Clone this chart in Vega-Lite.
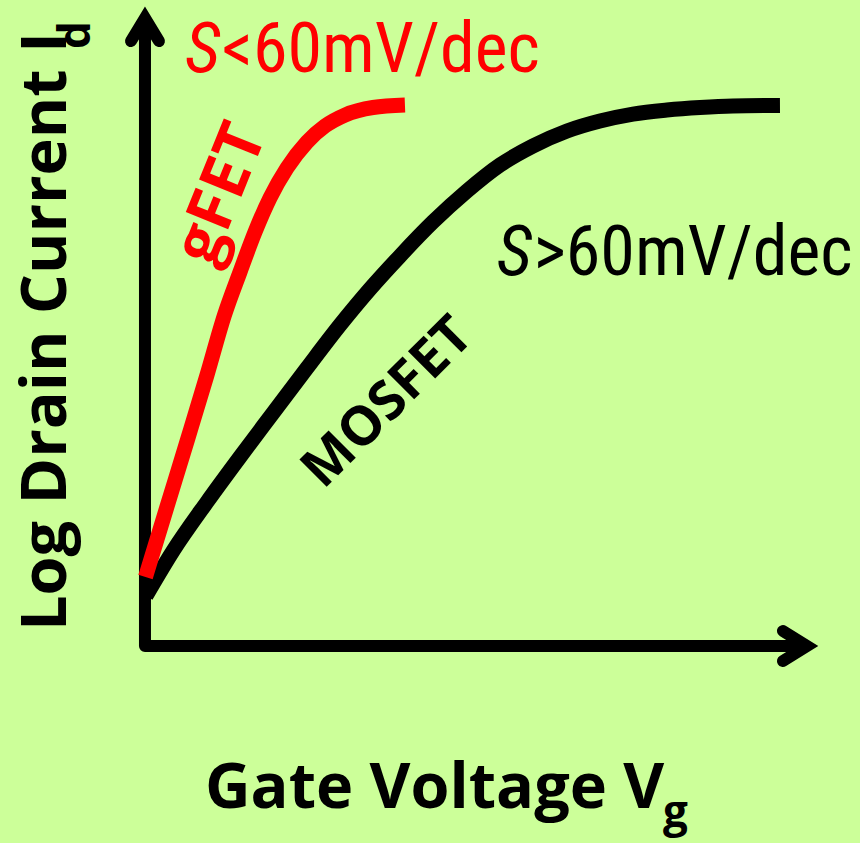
{
  "$schema": "https://vega.github.io/schema/vega-lite/v6.json",
  "width": 860,
  "height": 843,
  "padding": 0,
  "autosize": {"type": "none"},
  "background": "#CCFF99",
  "config": {"view": {"stroke": null}},
  "datasets": {
    "axes": [
      {"part": "shaft", "i": 0, "vg": 0, "logId": 10},
      {"part": "shaft", "i": 1, "vg": 0, "logId": 0},
      {"part": "shaft", "i": 2, "vg": 10, "logId": 0},
      {"part": "headY", "i": 0, "vg": -0.211, "logId": 9.634},
      {"part": "headY", "i": 1, "vg": 0, "logId": 10},
      {"part": "headY", "i": 2, "vg": 0.211, "logId": 9.634},
      {"part": "headX", "i": 0, "vg": 9.637, "logId": 0.239},
      {"part": "headX", "i": 1, "vg": 10, "logId": 0},
      {"part": "headX", "i": 2, "vg": 9.637, "logId": -0.239}
    ],
    "mosfet": [
      {"device": "MOSFET", "i": 0, "vg": 0.015, "logId": 0.796},
      {"device": "MOSFET", "i": 1, "vg": 0.423, "logId": 1.513},
      {"device": "MOSFET", "i": 2, "vg": 0.937, "logId": 2.293},
      {"device": "MOSFET", "i": 3, "vg": 1.435, "logId": 3.01},
      {"device": "MOSFET", "i": 4, "vg": 1.934, "logId": 3.71},
      {"device": "MOSFET", "i": 5, "vg": 2.447, "logId": 4.427},
      {"device": "MOSFET", "i": 6, "vg": 2.946, "logId": 5.111},
      {"device": "MOSFET", "i": 7, "vg": 3.399, "logId": 5.685},
      {"device": "MOSFET", "i": 8, "vg": 3.852, "logId": 6.21},
      {"device": "MOSFET", "i": 9, "vg": 4.35, "logId": 6.752},
      {"device": "MOSFET", "i": 10, "vg": 4.864, "logId": 7.245},
      {"device": "MOSFET", "i": 11, "vg": 5.363, "logId": 7.659},
      {"device": "MOSFET", "i": 12, "vg": 5.861, "logId": 7.962},
      {"device": "MOSFET", "i": 13, "vg": 6.375, "logId": 8.201},
      {"device": "MOSFET", "i": 14, "vg": 6.873, "logId": 8.36},
      {"device": "MOSFET", "i": 15, "vg": 7.372, "logId": 8.471},
      {"device": "MOSFET", "i": 16, "vg": 7.885, "logId": 8.535},
      {"device": "MOSFET", "i": 17, "vg": 8.384, "logId": 8.575},
      {"device": "MOSFET", "i": 18, "vg": 8.882, "logId": 8.599},
      {"device": "MOSFET", "i": 19, "vg": 9.592, "logId": 8.607}
    ],
    "gfet": [
      {"device": "gFET", "i": 0, "vg": 0.008, "logId": 1.099},
      {"device": "gFET", "i": 1, "vg": 0.317, "logId": 2.166},
      {"device": "gFET", "i": 2, "vg": 0.65, "logId": 3.312},
      {"device": "gFET", "i": 3, "vg": 0.937, "logId": 4.315},
      {"device": "gFET", "i": 4, "vg": 1.201, "logId": 5.271},
      {"device": "gFET", "i": 5, "vg": 1.435, "logId": 5.955},
      {"device": "gFET", "i": 6, "vg": 1.662, "logId": 6.592},
      {"device": "gFET", "i": 7, "vg": 1.888, "logId": 7.134},
      {"device": "gFET", "i": 8, "vg": 2.145, "logId": 7.611},
      {"device": "gFET", "i": 9, "vg": 2.447, "logId": 8.025},
      {"device": "gFET", "i": 10, "vg": 2.719, "logId": 8.28},
      {"device": "gFET", "i": 11, "vg": 3.021, "logId": 8.455},
      {"device": "gFET", "i": 12, "vg": 3.444, "logId": 8.575},
      {"device": "gFET", "i": 13, "vg": 3.927, "logId": 8.615}
    ]
  },
  "encoding": {
    "x": {"field": "vg", "type": "quantitative", "scale": {"domain": [-2.19, 10.801], "nice": false, "zero": false}, "axis": null},
    "y": {"field": "logId", "type": "quantitative", "scale": {"domain": [-3.137, 10.287], "nice": false, "zero": false}, "axis": null}
  },
  "layer": [
    {
      "data": {"name": "axes"},
      "transform": [{"filter": "datum.part === 'shaft'"}],
      "mark": {"type": "line", "color": "#000000", "strokeWidth": 12, "strokeJoin": "round", "strokeCap": "butt"},
      "encoding": {"order": {"field": "i", "type": "quantitative"}}
    },
    {
      "data": {"name": "axes"},
      "transform": [{"filter": "datum.part !== 'shaft'"}],
      "mark": {"type": "line", "color": "#000000", "strokeWidth": 12, "strokeJoin": "miter", "strokeMiterLimit": 10, "strokeCap": "round"},
      "encoding": {"detail": {"field": "part"}, "order": {"field": "i", "type": "quantitative"}}
    },
    {
      "data": {"name": "mosfet"},
      "mark": {"type": "line", "strokeWidth": 15, "strokeCap": "butt", "interpolate": "monotone"},
      "encoding": {
        "color": {"field": "device", "type": "nominal", "scale": {"domain": ["MOSFET", "gFET"], "range": ["#000000", "#FF0000"]}, "legend": null},
        "order": {"field": "i", "type": "quantitative"}
      }
    },
    {
      "data": {"name": "gfet"},
      "mark": {"type": "line", "strokeWidth": 15, "strokeCap": "butt", "interpolate": "monotone"},
      "encoding": {
        "color": {"field": "device", "type": "nominal", "legend": null},
        "order": {"field": "i", "type": "quantitative"}
      }
    },
    {
      "data": {"values": [
        {"label": "S", "device": "gFET", "vg": 0.604, "logId": 9.145},
        {"label": "S", "device": "MOSFET", "vg": 5.312, "logId": 5.908}
      ]},
      "mark": {"type": "text", "font": "Liberation Sans Narrow, Roboto Condensed, DejaVu Sans Condensed", "fontStyle": "italic", "fontSize": 70, "align": "left", "baseline": "alphabetic"},
      "encoding": {"text": {"field": "label"}, "color": {"field": "device", "type": "nominal", "legend": null}}
    },
    {
      "data": {"values": [
        {"label": "<60mV/dec", "device": "gFET", "vg": 1.16, "logId": 9.145},
        {"label": ">60mV/dec", "device": "MOSFET", "vg": 5.87, "logId": 5.908}
      ]},
      "mark": {"type": "text", "font": "Liberation Sans Narrow, Roboto Condensed, DejaVu Sans Condensed", "fontSize": 70, "align": "left", "baseline": "alphabetic"},
      "encoding": {"text": {"field": "label"}, "color": {"field": "device", "type": "nominal", "legend": null}}
    },
    {
      "data": {"values": [{"label": "gFET", "device": "gFET", "vg": 1.163, "logId": 7.197}]},
      "mark": {"type": "text", "font": "Open Sans", "fontWeight": "bold", "fontSize": 64, "angle": -68, "align": "center", "baseline": "middle"},
      "encoding": {"text": {"field": "label"}, "color": {"field": "device", "type": "nominal", "legend": null}}
    },
    {
      "data": {"values": [{"label": "MOSFET", "device": "MOSFET", "vg": 3.671, "logId": 3.869}]},
      "mark": {"type": "text", "font": "Open Sans", "fontWeight": "bold", "fontSize": 54, "angle": -45, "align": "center", "baseline": "middle"},
      "encoding": {"text": {"field": "label"}, "color": {"field": "device", "type": "nominal", "legend": null}}
    },
    {
      "data": {"values": [{"label": "Gate Voltage V", "vg": 0.906, "logId": -2.58}]},
      "mark": {"type": "text", "font": "Open Sans", "fontWeight": "bold", "fontSize": 63, "color": "#000000", "align": "left", "baseline": "alphabetic"},
      "encoding": {"text": {"field": "label"}}
    },
    {
      "data": {"values": [{"label": "g", "vg": 7.825, "logId": -2.882}]},
      "mark": {"type": "text", "font": "Open Sans", "fontWeight": "bold", "fontSize": 44, "color": "#000000", "align": "left", "baseline": "alphabetic"},
      "encoding": {"text": {"field": "label"}}
    },
    {
      "data": {"values": [{"label": "Log Drain Current I", "vg": -1.193, "logId": 0.239}]},
      "mark": {"type": "text", "font": "Open Sans", "fontWeight": "bold", "fontSize": 63, "color": "#000000", "angle": -90, "align": "left", "baseline": "alphabetic"},
      "encoding": {"text": {"field": "label"}}
    },
    {
      "data": {"values": [{"label": "d", "vg": -0.831, "logId": 9.506}]},
      "mark": {"type": "text", "font": "Open Sans", "fontWeight": "bold", "fontSize": 44, "color": "#000000", "angle": -90, "align": "left", "baseline": "alphabetic"},
      "encoding": {"text": {"field": "label"}}
    }
  ]
}
